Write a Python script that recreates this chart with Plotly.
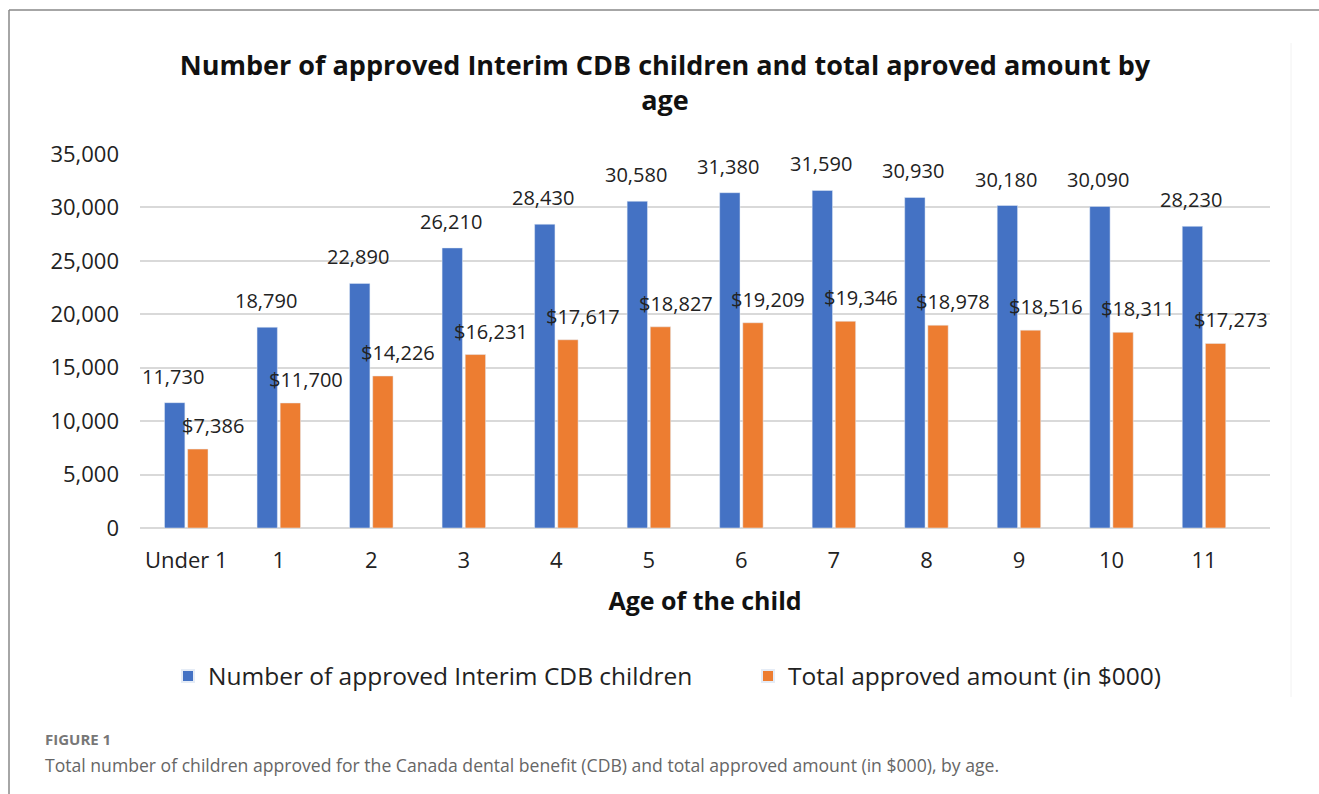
import plotly.graph_objects as go

categories = ["Under 1", "1", "2", "3", "4", "5", "6", "7", "8", "9", "10", "11"]
children = [11730, 18790, 22890, 26210, 28430, 30580, 31380, 31590, 30930, 30180, 30090, 28230]
amount = [7386, 11700, 14226, 16231, 17617, 18827, 19209, 19346, 18978, 18516, 18311, 17273]
series_names = ["Number of approved Interim CDB children", "Total approved amount (in $000)"]
y_ticks = [0, 5000, 10000, 15000, 20000, 25000, 30000, 35000]

FONT = "Open Sans"
BLUE = "#4472C4"
ORANGE = "#ED7D31"

W, H = 1319, 794
L, R, T, B = 140, 49, 154, 266
pw, ph = W - L - R, H - T - B

def px_x(x):
    return (x - L) / pw

def px_y(y):
    return (H - B - y) / ph

fig = go.Figure()
fig.add_trace(go.Bar(
    x=categories, y=children, name=series_names[0], marker_color=BLUE,
    cliponaxis=False, offsetgroup="a", legend="legend",
))
fig.add_trace(go.Bar(
    x=categories, y=amount, name=series_names[1], marker_color=ORANGE,
    cliponaxis=False, offsetgroup="b", legend="legend2",
))
# data labels
for c, v in zip(categories, children):
    fig.add_annotation(x=c, y=v, text=f"{v:,}", showarrow=False,
                       xshift=-13, yshift=11, yanchor="bottom",
                       font=dict(family=FONT, size=20, color="#222"))
for c, v in zip(categories, amount):
    fig.add_annotation(x=c, y=v, text=f"${v:,}", showarrow=False,
                       xshift=27, yshift=8, yanchor="bottom",
                       font=dict(family=FONT, size=20, color="#222"))

legend_common = dict(orientation="h", xanchor="left", y=px_y(676), yanchor="middle",
                     font=dict(family=FONT, size=24.5, color="#222"), itemsizing="constant")

fig.update_layout(
    width=W, height=H,
    margin=dict(l=L, r=R, t=T, b=B),
    paper_bgcolor="white", plot_bgcolor="white",
    barmode="group", bargap=0.5, bargroupgap=0.12,
    font=dict(family=FONT, color="#222"),
    title=dict(text="<b>Number of approved Interim CDB children and total aproved amount by<br>age</b>",
               x=665 / W, xanchor="center", y=1 - 75 / H, yanchor="middle",
               font=dict(family=FONT, size=27, color="#111")),
    showlegend=True,
    legend=dict(x=px_x(168), **legend_common),
    legend2=dict(x=px_x(748), **legend_common),
    xaxis=dict(showgrid=False, showline=False, ticks="", ticklabelstandoff=17,
               tickfont=dict(family=FONT, size=22, color="#222"),
               title=dict(text="<b>Age of the child</b>", standoff=19,
                          font=dict(family=FONT, size=25, color="#111"))),
    yaxis=dict(range=[0, 35000], tickvals=y_ticks, tickformat=",",
               showgrid=True, gridcolor="#d9d9d9", gridwidth=1.5,
               zeroline=True, zerolinecolor="#d9d9d9", zerolinewidth=1.5,
               showline=False, ticks="", ticklabelstandoff=20,
               tickfont=dict(family=FONT, size=22, color="#222")),
)

# frame lines (top and left)
fig.add_shape(type="line", xref="paper", yref="paper",
              x0=px_x(9), x1=px_x(W), y0=px_y(10), y1=px_y(10),
              line=dict(color="#888", width=1.5))
fig.add_shape(type="line", xref="paper", yref="paper",
              x0=px_x(9), x1=px_x(9), y0=px_y(10), y1=px_y(H),
              line=dict(color="#888", width=1.5))
# faint edge of the embedded chart image
fig.add_shape(type="line", xref="paper", yref="paper",
              x0=px_x(1291), x1=px_x(1291), y0=px_y(43), y1=px_y(697),
              line=dict(color="#f2f2f2", width=1))

fig.add_annotation(xref="paper", yref="paper", x=px_x(43), y=px_y(739),
                   xanchor="left", yanchor="middle", showarrow=False,
                   text="<b>FIGURE 1</b>", font=dict(family=FONT, size=15, color="#777"))
fig.add_annotation(xref="paper", yref="paper", x=px_x(43), y=px_y(765),
                   xanchor="left", yanchor="middle", showarrow=False,
                   text="Total number of children approved for the Canada dental benefit (CDB) and total approved amount (in $000), by age.",
                   font=dict(family=FONT, size=17.6, color="#666"))

fig.write_html("out.html", config={"displayModeBar": False},
               post_script="document.body.style.margin='0';")
